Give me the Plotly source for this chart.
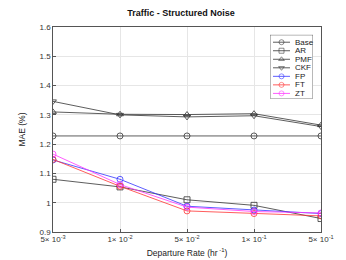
import plotly.graph_objects as go

rates = ["5e-3", "1e-2", "5e-2", "1e-1", "5e-1"]
tick_labels = ["5× 10<sup>-3</sup>", "1× 10<sup>-2</sup>", "5× 10<sup>-2</sup>",
               "1× 10<sup>-1</sup>", "5× 10<sup>-1</sup>"]
base = [1.228, 1.228, 1.228, 1.228, 1.228]
ar = [1.080, 1.054, 1.010, 0.991, 0.946]
pmf = [1.310, 1.302, 1.301, 1.304, 1.265]
ckf = [1.346, 1.300, 1.293, 1.297, 1.260]
fp = [1.146, 1.080, 0.988, 0.975, 0.963]
ft = [1.148, 1.056, 0.972, 0.963, 0.955]
zt = [1.166, 1.062, 0.985, 0.970, 0.965]

series = [
    ("Base", base, "#333333", "circle-open"),
    ("AR", ar, "#333333", "square-open"),
    ("PMF", pmf, "#333333", "triangle-up-open"),
    ("CKF", ckf, "#333333", "triangle-down-open"),
    ("FP", fp, "#3333ff", "circle-open"),
    ("FT", ft, "#ff3333", "circle-open"),
    ("ZT", zt, "#ff33ff", "circle-open"),
]

xpos = list(range(len(rates)))
fig = go.Figure()
for name, vals, col, sym in series:
    fig.add_trace(go.Scatter(
        x=xpos, y=vals, name=name, mode="lines+markers", showlegend=False,
        line=dict(color=col, width=0.8),
        marker=dict(symbol=sym, size=6, color=col, line=dict(width=0.8, color=col)),
    ))

# compact MATLAB-style legend drawn on an overlay axis (pixel-like units)
LX0, LX1, LY0, LY1 = 262, 305, 27, 92
row0, rowstep = 34.5, 8.7
fig.add_trace(go.Scatter(
    x=[LX0, LX1, LX1, LX0, LX0], y=[LY0, LY0, LY1, LY1, LY0], mode="lines",
    fill="toself", fillcolor="white", line=dict(color="#333333", width=0.7),
    xaxis="x2", yaxis="y2", showlegend=False, hoverinfo="skip",
))
for i, (name, vals, col, sym) in enumerate(series):
    yy = row0 + i * rowstep
    fig.add_trace(go.Scatter(
        x=[265, 273.5, 282], y=[yy, yy, yy], mode="lines+markers",
        xaxis="x2", yaxis="y2", showlegend=False, hoverinfo="skip",
        line=dict(color=col, width=0.8),
        marker=dict(symbol=sym, size=[0, 5, 0], color=col,
                    line=dict(width=0.8, color=col)),
    ))
    fig.add_annotation(x=285, y=yy, xref="x2", yref="y2", text=name, showarrow=False,
                       xanchor="left", yanchor="middle",
                       font=dict(size=8, color="#222222"))

font = "Liberation Sans, Arial, sans-serif"
L, R, T, B = 45, 33, 19, 32
W, H = 346, 260
pw, ph = W - L - R, H - T - B
dx0, dx1 = (LX0 - L) / pw, (LX1 - L) / pw
dy0, dy1 = (H - B - LY1) / ph, (H - B - LY0) / ph

fig.update_layout(
    width=W, height=H,
    margin=dict(l=L, r=R, t=T, b=B),
    paper_bgcolor="white", plot_bgcolor="white",
    font=dict(family=font, size=8, color="#333333"),
    title=dict(text="<b>Traffic - Structured Noise</b>", x=0.5, xanchor="center",
               y=0.983, yanchor="middle", font=dict(size=9, color="#111111")),
    showlegend=False,
    xaxis=dict(
        range=[0, 4], tickmode="array", tickvals=xpos, ticktext=tick_labels,
        showgrid=True, gridcolor="#e6e6e6", gridwidth=0.6,
        showline=True, linecolor="#555555", linewidth=0.6, mirror=True,
        ticks="inside", ticklen=3, tickcolor="#555555", zeroline=False,
        title=dict(text="Departure Rate (hr<sup> -1</sup>)", standoff=6,
                   font=dict(size=8.5, color="#222222")),
    ),
    yaxis=dict(
        range=[0.9, 1.6], tickmode="array",
        tickvals=[0.9, 1.0, 1.1, 1.2, 1.3, 1.4, 1.5, 1.6],
        ticktext=["0.9", "1", "1.1", "1.2", "1.3", "1.4", "1.5", "1.6"],
        showgrid=True, gridcolor="#e6e6e6", gridwidth=0.6,
        showline=True, linecolor="#555555", linewidth=0.6, mirror=True,
        ticks="inside", ticklen=3, tickcolor="#555555", zeroline=False,
        title=dict(text="MAE (%)", standoff=12, font=dict(size=8.5, color="#222222")),
    ),
    xaxis2=dict(domain=[dx0, dx1], range=[LX0, LX1], anchor="y2", visible=False,
                fixedrange=True),
    yaxis2=dict(domain=[dy0, dy1], range=[LY1, LY0], anchor="x2", visible=False,
                fixedrange=True),
)
fig.write_html("out.html")
